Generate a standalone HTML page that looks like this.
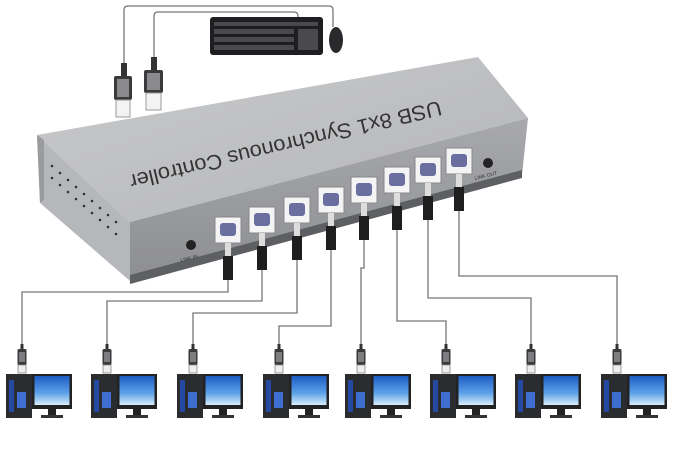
<!DOCTYPE html>
<html><head><meta charset="utf-8"><style>
html,body{margin:0;padding:0;background:#fff;}
svg{display:block}
</style></head><body>
<svg width="676" height="452" viewBox="0 0 676 452" xmlns="http://www.w3.org/2000/svg">
<defs>
<linearGradient id="top" x1="0" y1="0" x2="1" y2="1"><stop offset="0" stop-color="#c9cacc"/><stop offset="1" stop-color="#b4b5b8"/></linearGradient>
<linearGradient id="front" x1="0" y1="0" x2="0" y2="1"><stop offset="0" stop-color="#a8a9ac"/><stop offset="1" stop-color="#8d8e91"/></linearGradient>
<linearGradient id="scr" x1="0" y1="0" x2="0" y2="1"><stop offset="0" stop-color="#1d5cc4"/><stop offset="0.6" stop-color="#5fa3e8"/><stop offset="1" stop-color="#d8eefa"/></linearGradient>
<g id="pc">
  <rect x="-1.5" y="-8" width="3" height="6" fill="#333"/>
  <rect x="-4.5" y="-3" width="9" height="16" rx="1.5" fill="#3a3a3c"/>
  <rect x="-3" y="0" width="6" height="10" fill="#7d7e80"/>
  <rect x="-4" y="13" width="8" height="8" fill="#eee" stroke="#888" stroke-width="0.8"/>
  <rect x="-16" y="22" width="26" height="44" fill="#2b2c30"/>
  <rect x="-13" y="28" width="5" height="32" fill="#2449a0"/>
  <rect x="-5" y="40" width="9" height="16" fill="#3e6ed0"/>
  <rect x="10" y="22" width="40" height="35" fill="#222"/>
  <rect x="12.5" y="24" width="35" height="29" fill="url(#scr)"/>
  <rect x="26" y="57" width="8" height="6" fill="#222"/>
  <rect x="19" y="63" width="22" height="3" fill="#333"/>
</g>
</defs>

<path d="M124 66 V10 Q124 6 128 6 H329 Q333 6 333 10 V27" fill="none" stroke="#777" stroke-width="1.3"/>
<path d="M154 60 V16 Q154 12 158 12 H294 Q298 12 298 16 V18" fill="none" stroke="#777" stroke-width="1.3"/>
<rect x="121" y="63" width="6" height="14" fill="#333"/>
<rect x="114" y="76" width="18" height="24" rx="2" fill="#3a3a3c"/>
<rect x="117" y="79" width="12" height="18" fill="#8a8a8c"/>
<rect x="116" y="100" width="14" height="17" fill="#f3f3f3" stroke="#999"/>
<rect x="151" y="57" width="6" height="14" fill="#333"/>
<rect x="144" y="70" width="19" height="23" rx="2" fill="#3a3a3c"/>
<rect x="147" y="73" width="13" height="17" fill="#8a8a8c"/>
<rect x="146" y="93" width="15" height="17" fill="#f3f3f3" stroke="#999"/>
<rect x="210" y="17" width="113" height="38" rx="3" fill="#1e1e20"/>
<g fill="#4a4a4e">
<rect x="214" y="22" width="104" height="4"/><rect x="214" y="29" width="80" height="5"/><rect x="214" y="37" width="80" height="5"/><rect x="214" y="45" width="80" height="5"/><rect x="298" y="29" width="20" height="21"/>
</g>
<ellipse cx="336" cy="40" rx="7" ry="13" fill="#2a2a2c"/>

<polygon points="37,135 478,57 528,118 130,222" fill="url(#top)"/>
<polygon points="130,222 528,118 522,175 130,281" fill="url(#front)"/>
<polygon points="130,275 522,170 522,178 130,284" fill="#5e5f62"/>
<polygon points="37,135 130,222 130,281 40,203" fill="#b6b7ba"/>
<polygon points="37,135 44,140 44,200 40,203" fill="#9a9b9e"/>
<g fill="#333">
<circle cx="52" cy="166" r="1.3"/><circle cx="60" cy="173" r="1.3"/><circle cx="68" cy="180" r="1.3"/><circle cx="76" cy="187" r="1.3"/><circle cx="84" cy="194" r="1.3"/><circle cx="92" cy="201" r="1.3"/><circle cx="100" cy="208" r="1.3"/><circle cx="108" cy="215" r="1.3"/><circle cx="116" cy="222" r="1.3"/>
<circle cx="52" cy="178" r="1.3"/><circle cx="60" cy="185" r="1.3"/><circle cx="68" cy="192" r="1.3"/><circle cx="76" cy="199" r="1.3"/><circle cx="84" cy="206" r="1.3"/><circle cx="92" cy="213" r="1.3"/><circle cx="100" cy="220" r="1.3"/><circle cx="108" cy="227" r="1.3"/><circle cx="116" cy="234" r="1.3"/>
</g>
<text x="0" y="0" transform="translate(284,138) rotate(166.5)" font-family="Liberation Sans, sans-serif" font-size="21" fill="#333" text-anchor="middle" textLength="320" lengthAdjust="spacingAndGlyphs">USB 8x1 Synchronous Controller</text>
<circle cx="191" cy="245" r="5" fill="#222"/>
<text x="181" y="262" font-family="Liberation Sans, sans-serif" font-size="5" fill="#333" transform="rotate(-14 181 262)">LINK IN</text>
<circle cx="488" cy="163" r="5" fill="#222"/>
<text x="475" y="180" font-family="Liberation Sans, sans-serif" font-size="5" fill="#333" transform="rotate(-14 475 180)">LINK OUT</text>

<g>
<g transform="translate(228,230)"><rect x="-13" y="-13" width="26" height="26" fill="#f4f4f4" stroke="#888"/><rect x="-8" y="-7" width="16" height="13" rx="3" fill="#6a6fa0"/><rect x="-3" y="13" width="6" height="14" fill="#ddd"/><rect x="-5" y="26" width="10" height="24" fill="#1e1e1e"/></g>
<g transform="translate(262,220)"><rect x="-13" y="-13" width="26" height="26" fill="#f4f4f4" stroke="#888"/><rect x="-8" y="-7" width="16" height="13" rx="3" fill="#6a6fa0"/><rect x="-3" y="13" width="6" height="14" fill="#ddd"/><rect x="-5" y="26" width="10" height="24" fill="#1e1e1e"/></g>
<g transform="translate(297,210)"><rect x="-13" y="-13" width="26" height="26" fill="#f4f4f4" stroke="#888"/><rect x="-8" y="-7" width="16" height="13" rx="3" fill="#6a6fa0"/><rect x="-3" y="13" width="6" height="14" fill="#ddd"/><rect x="-5" y="26" width="10" height="24" fill="#1e1e1e"/></g>
<g transform="translate(331,200)"><rect x="-13" y="-13" width="26" height="26" fill="#f4f4f4" stroke="#888"/><rect x="-8" y="-7" width="16" height="13" rx="3" fill="#6a6fa0"/><rect x="-3" y="13" width="6" height="14" fill="#ddd"/><rect x="-5" y="26" width="10" height="24" fill="#1e1e1e"/></g>
<g transform="translate(364,190)"><rect x="-13" y="-13" width="26" height="26" fill="#f4f4f4" stroke="#888"/><rect x="-8" y="-7" width="16" height="13" rx="3" fill="#6a6fa0"/><rect x="-3" y="13" width="6" height="14" fill="#ddd"/><rect x="-5" y="26" width="10" height="24" fill="#1e1e1e"/></g>
<g transform="translate(397,180)"><rect x="-13" y="-13" width="26" height="26" fill="#f4f4f4" stroke="#888"/><rect x="-8" y="-7" width="16" height="13" rx="3" fill="#6a6fa0"/><rect x="-3" y="13" width="6" height="14" fill="#ddd"/><rect x="-5" y="26" width="10" height="24" fill="#1e1e1e"/></g>
<g transform="translate(428,170)"><rect x="-13" y="-13" width="26" height="26" fill="#f4f4f4" stroke="#888"/><rect x="-8" y="-7" width="16" height="13" rx="3" fill="#6a6fa0"/><rect x="-3" y="13" width="6" height="14" fill="#ddd"/><rect x="-5" y="26" width="10" height="24" fill="#1e1e1e"/></g>
<g transform="translate(459,161)"><rect x="-13" y="-13" width="26" height="26" fill="#f4f4f4" stroke="#888"/><rect x="-8" y="-7" width="16" height="13" rx="3" fill="#6a6fa0"/><rect x="-3" y="13" width="6" height="14" fill="#ddd"/><rect x="-5" y="26" width="10" height="24" fill="#1e1e1e"/></g>
</g>

<g fill="none" stroke="#777" stroke-width="1.3">
<path d="M228 280 V292 H22 V344"/>
<path d="M262 270 V301 H107 V344"/>
<path d="M297 260 V313 H193 V344"/>
<path d="M331 250 V326 H279 V344"/>
<path d="M364 240 V268 H361 V344"/>
<path d="M397 230 V321 H446 V344"/>
<path d="M428 220 V298 H531 V344"/>
<path d="M459 211 V276 H617 V344"/>
</g>

<use href="#pc" x="22" y="352"/>
<use href="#pc" x="107" y="352"/>
<use href="#pc" x="193" y="352"/>
<use href="#pc" x="279" y="352"/>
<use href="#pc" x="361" y="352"/>
<use href="#pc" x="446" y="352"/>
<use href="#pc" x="531" y="352"/>
<use href="#pc" x="617" y="352"/>
</svg>
</body></html>
